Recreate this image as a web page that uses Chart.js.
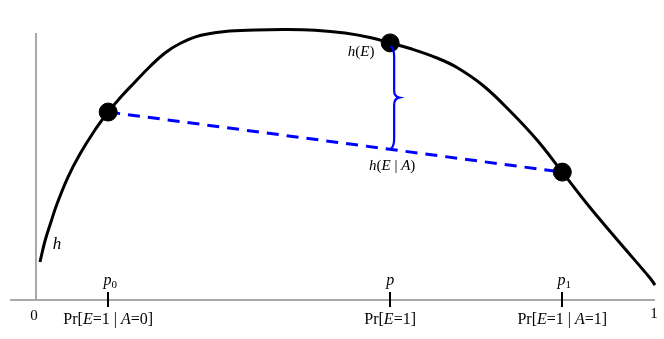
<!DOCTYPE html>
<html><head><meta charset="utf-8">
<script src="https://cdn.jsdelivr.net/npm/chart.js@4.4.0/dist/chart.umd.min.js"></script>
<style>html,body{margin:0;padding:0;background:#fff}#wrap{width:664px;height:339px;position:relative}</style>
</head><body><div id="wrap"><canvas id="c"></canvas></div>
<script>
// ---- data (x: probability 0..1, y: entropy-like h) ----
const curveX = [0.0065, 0.0146, 0.0243, 0.0340, 0.0519, 0.0713, 0.0956, 0.117, 0.1361, 0.1605, 0.1848, 0.2091, 0.2334, 0.2658, 0.3063, 0.3549, 0.4036, 0.4522, 0.5008, 0.5413, 0.574, 0.6062, 0.6499, 0.6823, 0.7245, 0.7682, 0.8120, 0.853, 0.8979, 0.9465, 0.9951, 1.0032];
const curveY = [0.1423, 0.2210, 0.2921, 0.3596, 0.4607, 0.5468, 0.6367, 0.704, 0.7566, 0.8165, 0.8745, 0.9251, 0.9607, 0.9906, 1.0056, 1.0112, 1.0131, 1.0105, 1.0000, 0.9831, 0.963, 0.9419, 0.9064, 0.8708, 0.8034, 0.7079, 0.5993, 0.479, 0.3464, 0.2135, 0.0824, 0.0562];
const pointX = [0.117, 0.574, 0.853];
const pointY = [0.704, 0.963, 0.479];
const tickX = [0.117, 0.574, 0.853];
// segments: [text, style] style 0 = upright, 1 = italic, 2 = subscript
const tickTopLabels = [
  [['p',1],['0',2]],
  [['p',1]],
  [['p',1],['1',2]]
];
const tickBottomLabels = [
  [['Pr[',0],['E',1],['=1 | ',0],['A',1],['=0]',0]],
  [['Pr[',0],['E',1],['=1]',0]],
  [['Pr[',0],['E',1],['=1 | ',0],['A',1],['=1]',0]]
];
const axisEndX = [0, 1];
const axisEndLabels = ['0', '1'];
const axisXRange = [-0.042, 1.003];
const axisYRange = [0, 1];
const curveLabel = [['h',1]];
const hELabel = [['h',1],['(',0],['E',1],[')',0]];
const hEALabel = [['h',1],['(',0],['E',1],[' | ',0],['A',1],[')',0]];

const FONT = '"Liberation Serif", "Times New Roman", serif';
function drawRich(ctx, segs, cx, baseline, size) {
  const fontFor = s => (s === 1 ? 'italic ' : '') + (s === 2 ? Math.round(size*0.7) : size) + 'px ' + FONT;
  let w = 0;
  segs.forEach(([t, s]) => { ctx.font = fontFor(s); w += ctx.measureText(t).width; });
  let x = cx - w / 2;
  ctx.textAlign = 'left'; ctx.textBaseline = 'alphabetic'; ctx.fillStyle = '#000';
  segs.forEach(([t, s]) => {
    ctx.font = fontFor(s);
    ctx.fillText(t, x, baseline + (s === 2 ? 3 : 0));
    x += ctx.measureText(t).width;
  });
}

const chordY = pointY[0] + (pointX[1]-pointX[0])/(pointX[2]-pointX[0])*(pointY[2]-pointY[0]);

const decor = {
  id: 'decor',
  afterDatasetsDraw(chart) {
    const ctx = chart.ctx, xs = chart.scales.x, ys = chart.scales.y;
    // brace
    const bx = xs.getPixelForValue(pointX[1]);
    const top = ys.getPixelForValue(pointY[1]) + 4;
    const bot = ys.getPixelForValue(chordY) - 1;
    const mid = (top + bot) / 2;
    ctx.save();
    ctx.strokeStyle = '#0000ff'; ctx.lineWidth = 2.2; ctx.lineCap = 'round';
    ctx.beginPath();
    ctx.moveTo(bx + 1, top);
    ctx.quadraticCurveTo(bx + 4, top + 2, bx + 4, top + 10);
    ctx.lineTo(bx + 4, mid - 7);
    ctx.quadraticCurveTo(bx + 4, mid - 1, bx + 9, mid);
    ctx.quadraticCurveTo(bx + 4, mid + 1, bx + 4, mid + 7);
    ctx.lineTo(bx + 4, bot - 10);
    ctx.quadraticCurveTo(bx + 4, bot - 2, bx + 1, bot);
    ctx.stroke();
    // ticks
    const y0 = ys.getPixelForValue(0);
    ctx.strokeStyle = '#000'; ctx.lineWidth = 2; ctx.lineCap = 'butt';
    tickX.forEach(v => {
      const px = Math.round(xs.getPixelForValue(v));
      ctx.beginPath(); ctx.moveTo(px, y0 - 8); ctx.lineTo(px, y0 + 7); ctx.stroke();
    });
    ctx.restore();
  },
  afterDraw(chart) {
    const ctx = chart.ctx, xs = chart.scales.x, ys = chart.scales.y;
    const y0 = ys.getPixelForValue(0);
    ctx.save();
    tickX.forEach((v, i) => {
      const px = xs.getPixelForValue(v);
      drawRich(ctx, tickTopLabels[i], px + (tickTopLabels[i].length > 1 ? 2 : 0), y0 - 15, 16);
      drawRich(ctx, tickBottomLabels[i], px, y0 + 24, 16);
    });
    axisEndX.forEach((v, i) => {
      drawRich(ctx, [[axisEndLabels[i], 0]], xs.getPixelForValue(v) + (i === 0 ? -2 : 1), y0 + (i === 0 ? 20 : 18), 15);
    });
    drawRich(ctx, curveLabel, xs.getPixelForValue(curveX[1]) + 12, ys.getPixelForValue(curveY[1]) + 8, 17);
    drawRich(ctx, hELabel, xs.getPixelForValue(pointX[1]) - 29, ys.getPixelForValue(pointY[1]) + 13, 15);
    drawRich(ctx, hEALabel, xs.getPixelForValue(pointX[1]) + 2, ys.getPixelForValue(chordY) + 21, 15);
    ctx.restore();
  }
};

new Chart(document.getElementById('c'), {
  type: 'scatter',
  data: {
    datasets: [
      { label: 'points', data: pointX.map((x, i) => ({x, y: pointY[i]})), backgroundColor: '#000', borderColor: '#000', pointRadius: 9, pointHoverRadius: 9, showLine: false, order: 0 },
      { label: 'h', data: curveX.map((x, i) => ({x, y: curveY[i]})), borderColor: '#000', borderWidth: 3, pointRadius: 0, showLine: true, tension: 0.4, order: 2 },
      { label: 'chord', data: [{x: pointX[0], y: pointY[0]}, {x: pointX[2], y: pointY[2]}], borderColor: '#0000ff', borderWidth: 3, borderDash: [12, 8], pointRadius: 0, showLine: true, order: 3 },
      { label: 'xaxis', data: [{x: axisXRange[0], y: 0}, {x: axisXRange[1], y: 0}], borderColor: '#a8a8a8', borderWidth: 2, pointRadius: 0, showLine: true, order: 5 },
      { label: 'yaxis', data: [{x: 0, y: axisYRange[0]}, {x: 0, y: axisYRange[1]}], borderColor: '#a8a8a8', borderWidth: 2, pointRadius: 0, showLine: true, order: 5 }
    ]
  },
  options: {
    responsive: true, maintainAspectRatio: false, animation: false,
    layout: { padding: 0, autoPadding: false },
    plugins: { legend: { display: false }, tooltip: { enabled: false } },
    scales: {
      x: { type: 'linear', display: false, min: -0.0583, max: 1.0178 },
      y: { type: 'linear', display: false, min: -0.146, max: 1.1236 }
    }
  },
  plugins: [decor]
});
</script></body></html>
